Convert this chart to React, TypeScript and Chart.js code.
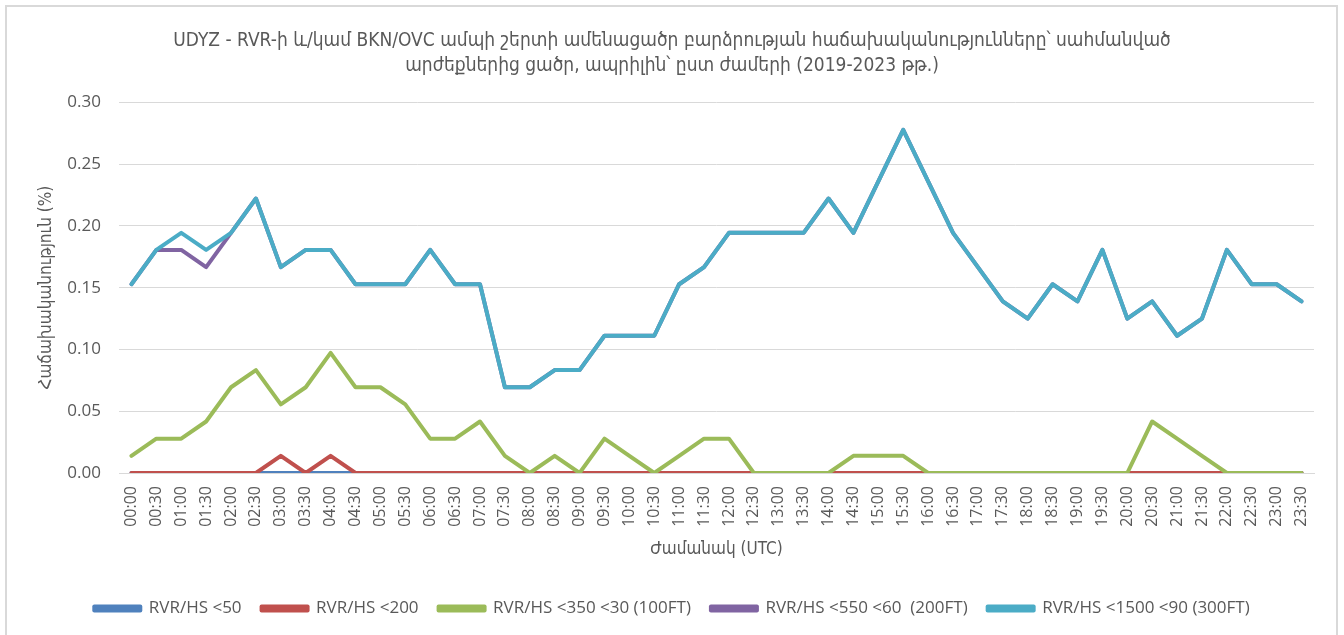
import React, { useEffect, useRef } from "react";
import { Chart, registerables } from "chart.js";

Chart.register(...registerables);

const categories = [
  "00:00", "00:30", "01:00", "01:30", "02:00", "02:30", "03:00", "03:30",
  "04:00", "04:30", "05:00", "05:30", "06:00", "06:30", "07:00", "07:30",
  "08:00", "08:30", "09:00", "09:30", "10:00", "10:30", "11:00", "11:30",
  "12:00", "12:30", "13:00", "13:30", "14:00", "14:30", "15:00", "15:30",
  "16:00", "16:30", "17:00", "17:30", "18:00", "18:30", "19:00", "19:30",
  "20:00", "20:30", "21:00", "21:30", "22:00", "22:30", "23:00", "23:30",
];

const rvr50 = [
  0, 0, 0, 0, 0, 0, 0, 0, 0, 0, 0, 0, 0, 0, 0, 0,
  0, 0, 0, 0, 0, 0, 0, 0, 0, 0, 0, 0, 0, 0, 0, 0,
  0, 0, 0, 0, 0, 0, 0, 0, 0, 0, 0, 0, 0, 0, 0, 0,
];

const rvr200 = [
  0, 0, 0, 0, 0, 0, 0.0139, 0, 0.0139, 0, 0, 0, 0, 0, 0, 0,
  0, 0, 0, 0, 0, 0, 0, 0, 0, 0, 0, 0, 0, 0, 0, 0,
  0, 0, 0, 0, 0, 0, 0, 0, 0, 0, 0, 0, 0, 0, 0, 0,
];

const rvr350 = [
  0.0139, 0.0278, 0.0278, 0.0417, 0.0694, 0.0833, 0.0556, 0.0694,
  0.0972, 0.0694, 0.0694, 0.0556, 0.0278, 0.0278, 0.0417, 0.0139,
  0, 0.0139, 0, 0.0278, 0.0139, 0, 0.0139, 0.0278,
  0.0278, 0, 0, 0, 0, 0.0139, 0.0139, 0.0139,
  0, 0, 0, 0, 0, 0, 0, 0,
  0, 0.0417, 0.0278, 0.0139, 0, 0, 0, 0,
];

const rvr550 = [
  0.1528, 0.1806, 0.1806, 0.1667, 0.1944, 0.2222, 0.1667, 0.1806,
  0.1806, 0.1528, 0.1528, 0.1528, 0.1806, 0.1528, 0.1528, 0.0694,
  0.0694, 0.0833, 0.0833, 0.1111, 0.1111, 0.1111, 0.1528, 0.1667,
  0.1944, 0.1944, 0.1944, 0.1944, 0.2222, 0.1944, 0.2361, 0.2778,
  0.2361, 0.1944, 0.1667, 0.1389, 0.125, 0.1528, 0.1389, 0.1806,
  0.125, 0.1389, 0.1111, 0.125, 0.1806, 0.1528, 0.1528, 0.1389,
];

const rvr1500 = [
  0.1528, 0.1806, 0.1944, 0.1806, 0.1944, 0.2222, 0.1667, 0.1806,
  0.1806, 0.1528, 0.1528, 0.1528, 0.1806, 0.1528, 0.1528, 0.0694,
  0.0694, 0.0833, 0.0833, 0.1111, 0.1111, 0.1111, 0.1528, 0.1667,
  0.1944, 0.1944, 0.1944, 0.1944, 0.2222, 0.1944, 0.2361, 0.2778,
  0.2361, 0.1944, 0.1667, 0.1389, 0.125, 0.1528, 0.1389, 0.1806,
  0.125, 0.1389, 0.1111, 0.125, 0.1806, 0.1528, 0.1528, 0.1389,
];

const seriesNames = [
  "RVR/HS <50",
  "RVR/HS <200",
  "RVR/HS <350 <30 (100FT)",
  "RVR/HS <550 <60  (200FT)",
  "RVR/HS <1500 <90 (300FT)",
];
const seriesColors = ["#4F81BD", "#C0504D", "#9BBB59", "#8064A2", "#4BACC6"];

const titleLines = [
  "UDYZ - RVR-ի և/կամ BKN/OVC ամպի շերտի ամենացածր բարձրության հաճախականությունները՝ սահմանված",
  "արժեքներից ցածր, ապրիլին՝ ըստ ժամերի (2019-2023 թթ.)",
];
const yTitle = "Հաճախականություն (%)";
const xTitle = "Ժամանակ (UTC)";

const yMin = 0;
const yMax = 0.3;
const yStep = 0.05;

const GRAY = "#595959";
const FONT = "'Open Sans', 'DejaVu Sans', sans-serif";
const ARM_FONT = "'DejaVu Sans Condensed', 'DejaVu Sans', sans-serif";

const framePlugin = {
  id: "frame",
  beforeDraw(chart: any) {
    const ctx = chart.ctx;
    ctx.save();
    ctx.fillStyle = "#ffffff";
    ctx.fillRect(0, 0, chart.width, chart.height);
    ctx.strokeStyle = "#d9d9d9";
    ctx.lineWidth = 2;
    ctx.strokeRect(6, 6, 1331, 640);
    ctx.restore();
  },
};

export default function App() {
  const ref = useRef<HTMLCanvasElement | null>(null);

  useEffect(() => {
    document.body.style.margin = "0";
    const canvas = ref.current;
    if (!canvas) return;
    const allSeries = [rvr50, rvr200, rvr350, rvr550, rvr1500];
    const datasets = allSeries.map((data, i) => ({
      label: seriesNames[i],
      data,
      borderColor: seriesColors[i],
      backgroundColor: seriesColors[i],
      borderWidth: 4,
      pointRadius: 0,
      pointHoverRadius: 0,
      tension: 0,
      fill: false,
      order: 5 - i,
      borderJoinStyle: "round" as const,
      borderCapStyle: "round" as const,
    }));

    const chart = new Chart(canvas, {
      type: "line",
      data: { labels: categories, datasets },
      options: {
        animation: false,
        responsive: false,
        maintainAspectRatio: false,
        devicePixelRatio: 1,
        layout: { padding: { left: 30, right: 30, top: 0, bottom: 8 } },
        plugins: {
          title: {
            display: true,
            text: titleLines,
            color: GRAY,
            font: { family: ARM_FONT, size: 19, weight: "normal", lineHeight: 1.3 },
            padding: { top: 29, bottom: 24 },
          },
          legend: {
            display: true,
            position: "bottom",
            labels: {
              color: GRAY,
              font: { family: FONT, size: 17 },
              boxWidth: 46,
              boxHeight: 4,
              padding: 20,
              sort: (a: any, b: any) => a.datasetIndex - b.datasetIndex,
            },
          },
          tooltip: { enabled: false },
        },
        scales: {
          x: {
            type: "category",
            offset: true,
            grid: { display: false, drawTicks: false },
            border: { display: true, color: "#d9d9d9", width: 1 },
            afterFit: (scale: any) => {
              scale.height = 107;
            },
            ticks: {
              color: GRAY,
              font: { family: FONT, size: 16 },
              minRotation: 90,
              maxRotation: 90,
              autoSkip: false,
              padding: 13,
            },
            title: {
              display: true,
              text: xTitle,
              color: GRAY,
              font: { family: ARM_FONT, size: 17, lineHeight: 1.2 },
              padding: { top: 10, bottom: 20 },
            },
          },
          y: {
            min: yMin,
            max: yMax,
            grid: { color: "#d9d9d9", lineWidth: 1, drawTicks: false },
            border: { display: false },
            afterFit: (scale: any) => {
              scale.width = 89;
            },
            ticks: {
              stepSize: yStep,
              color: GRAY,
              font: { family: FONT, size: 17 },
              padding: 18,
              callback: (v: any) => Number(v).toFixed(2),
            },
            title: {
              display: true,
              text: yTitle,
              color: GRAY,
              font: { family: ARM_FONT, size: 17, lineHeight: 1.2 },
              padding: { top: 6, bottom: 9 },
            },
          },
        },
      },
      plugins: [framePlugin],
    });
    return () => chart.destroy();
  }, []);

  return (
    <div style={{ width: 1344, height: 635 }}>
      <canvas ref={ref} width={1344} height={635} style={{ display: "block" }} />
    </div>
  );
}
